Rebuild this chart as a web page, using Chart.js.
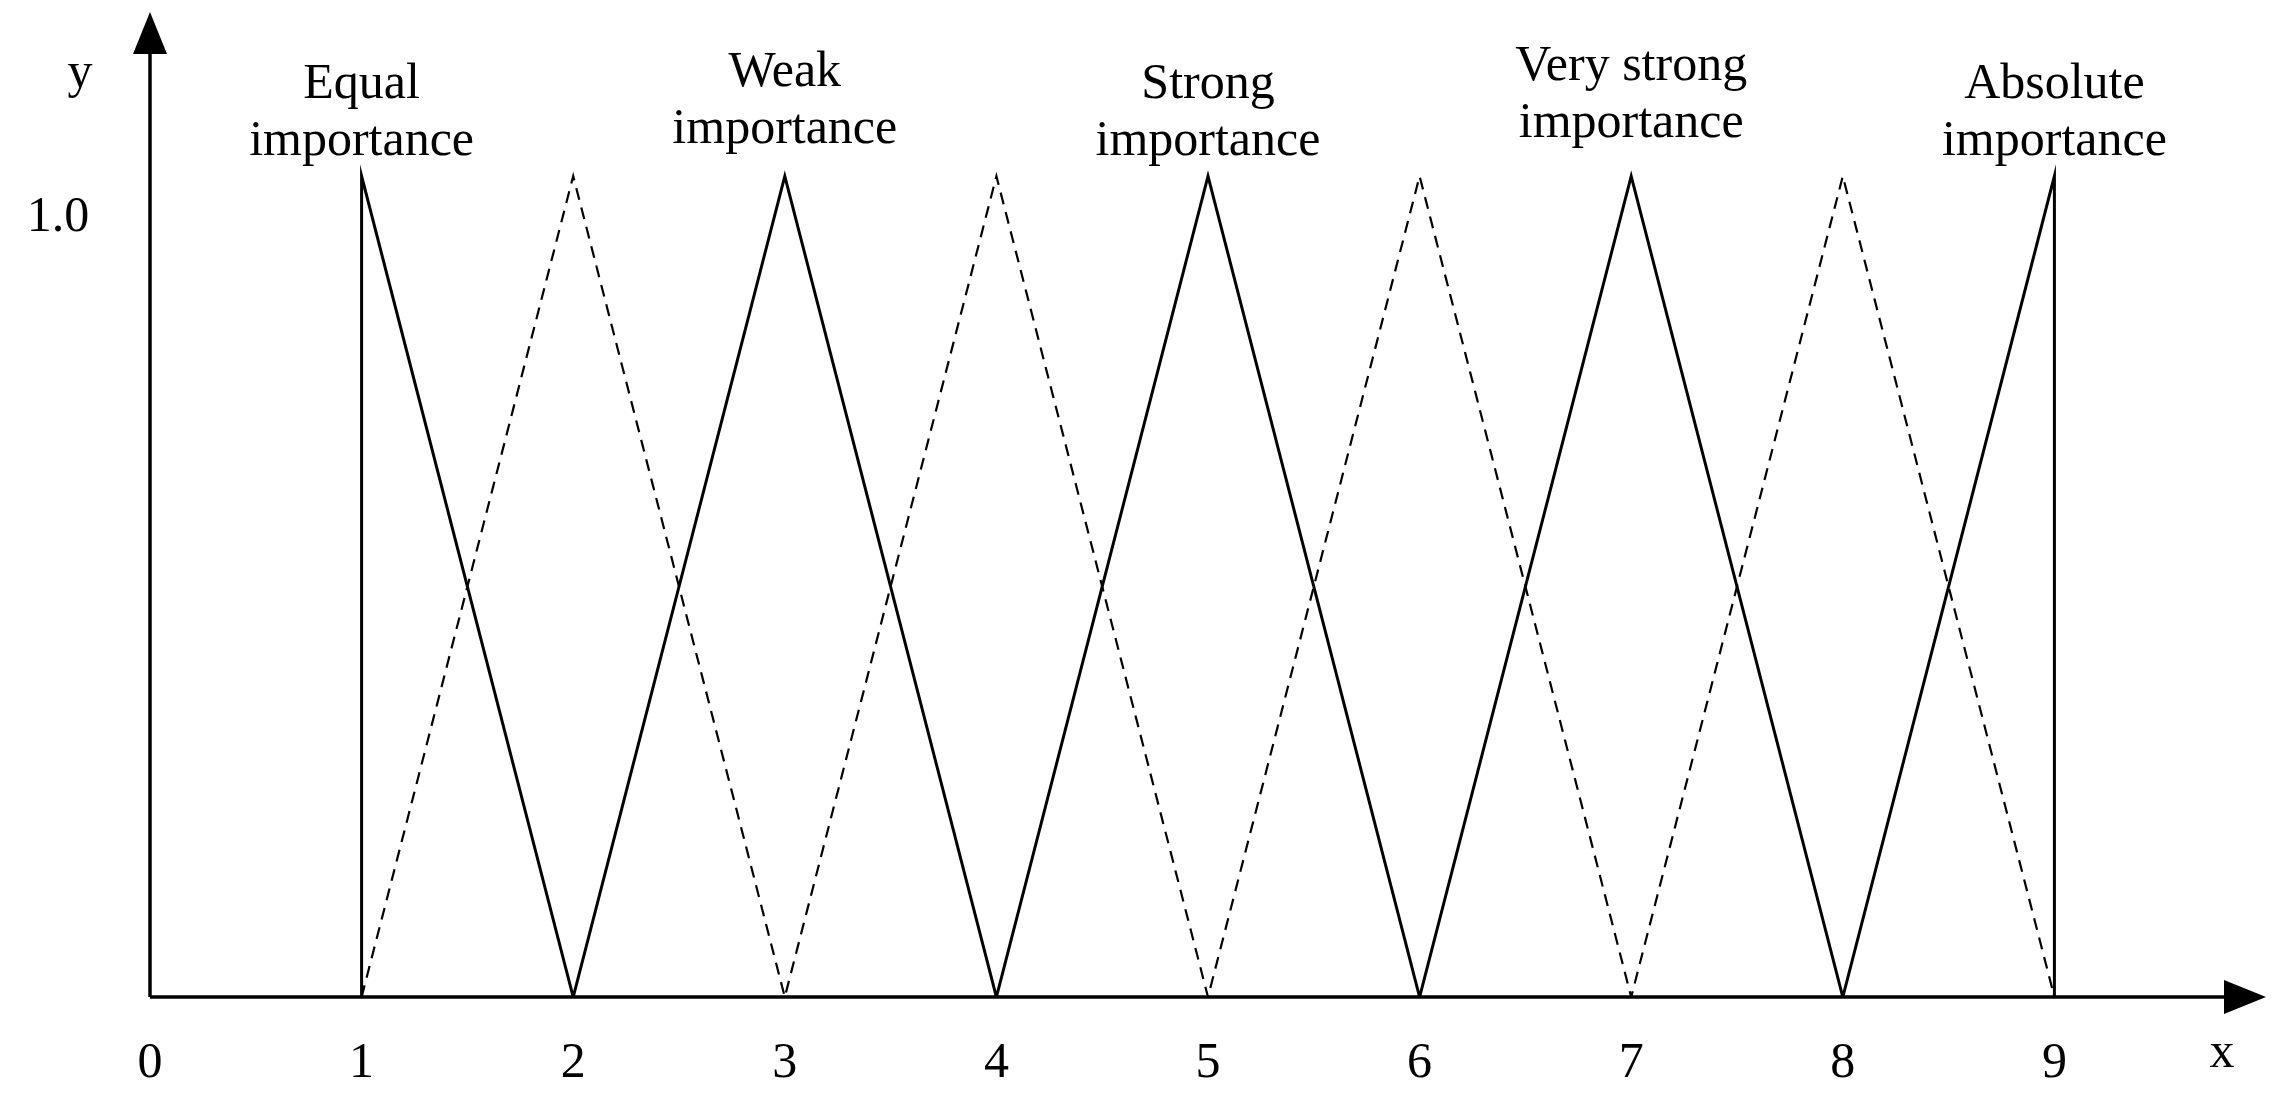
<!DOCTYPE html>
<html><head><meta charset="utf-8">
<script src="https://cdn.jsdelivr.net/npm/chart.js@4"></script>
<style>html,body{margin:0;padding:0;background:#fff}#w{width:2285px;height:1099px}</style>
</head><body><div id="w"><canvas id="c"></canvas></div>
<script>
const solidX = [1,1,2,3,4,5,6,7,8,9,9];
const solidY = [0,1,0,1,0,1,0,1,0,1,0];
const dashX = [1,2,3,4,5,6,7,8,9];
const dashY = [0,1,0,1,0,1,0,1,0];
const xTicks = [0,1,2,3,4,5,6,7,8,9];
const labelX = [1,3,5,7,9];
const labelLines = [["Equal","importance"],["Weak","importance"],["Strong","importance"],["Very strong","importance"],["Absolute","importance"]];
const labelTopPx = [85,73,85,67,85];
const FONT = '"Liberation Serif", "DejaVu Serif", serif';

const deco = {
  id:'deco',
  afterDraw(ch){
    const c=ch.ctx, xs=ch.scales.x, ys=ch.scales.y;
    const x0=xs.getPixelForValue(0), y0=ys.getPixelForValue(0);
    const xe=xs.getPixelForValue(10), ye=ys.getPixelForValue(1.2);
    c.save();
    c.strokeStyle='#000'; c.fillStyle='#000'; c.lineWidth=3.5;
    c.beginPath(); c.moveTo(x0,y0); c.lineTo(xe-38,y0); c.stroke();
    c.beginPath(); c.moveTo(x0,y0); c.lineTo(x0,ye+38); c.stroke();
    c.beginPath(); c.moveTo(xe,y0); c.lineTo(xe-42,y0-17); c.lineTo(xe-42,y0+17); c.closePath(); c.fill();
    c.beginPath(); c.moveTo(x0,ye); c.lineTo(x0-17,ye+42); c.lineTo(x0+17,ye+42); c.closePath(); c.fill();
    c.font='50px '+FONT; c.textAlign='center'; c.textBaseline='middle';
    xTicks.forEach(v=>c.fillText(String(v), xs.getPixelForValue(v), 1064));
    c.fillText('x', 2222, 1054);
    c.fillText('y', 80, 74);
    c.fillText('1.0', 58, 218);
    labelLines.forEach((ls,i)=>{
      ls.forEach((t,j)=>c.fillText(t, xs.getPixelForValue(labelX[i]), labelTopPx[i]+j*57));
    });
    c.restore();
  }
};

new Chart(document.getElementById('c'),{
  type:'scatter',
  data:{datasets:[
    {data:solidX.map((x,i)=>({x,y:solidY[i]})),showLine:true,borderColor:'#000',borderWidth:3,pointRadius:0,tension:0},
    {data:dashX.map((x,i)=>({x,y:dashY[i]})),showLine:true,borderColor:'#000',borderWidth:2.2,borderDash:[12,8],pointRadius:0,tension:0}
  ]},
  options:{
    responsive:true,maintainAspectRatio:false,animation:false,
    layout:{padding:{left:150,right:19,top:12,bottom:102}},
    plugins:{legend:{display:false},tooltip:{enabled:false}},
    scales:{
      x:{type:'linear',min:0,max:10,display:false},
      y:{type:'linear',min:0,max:1.2,display:false}
    }
  },
  plugins:[deco]
});
</script></body></html>
